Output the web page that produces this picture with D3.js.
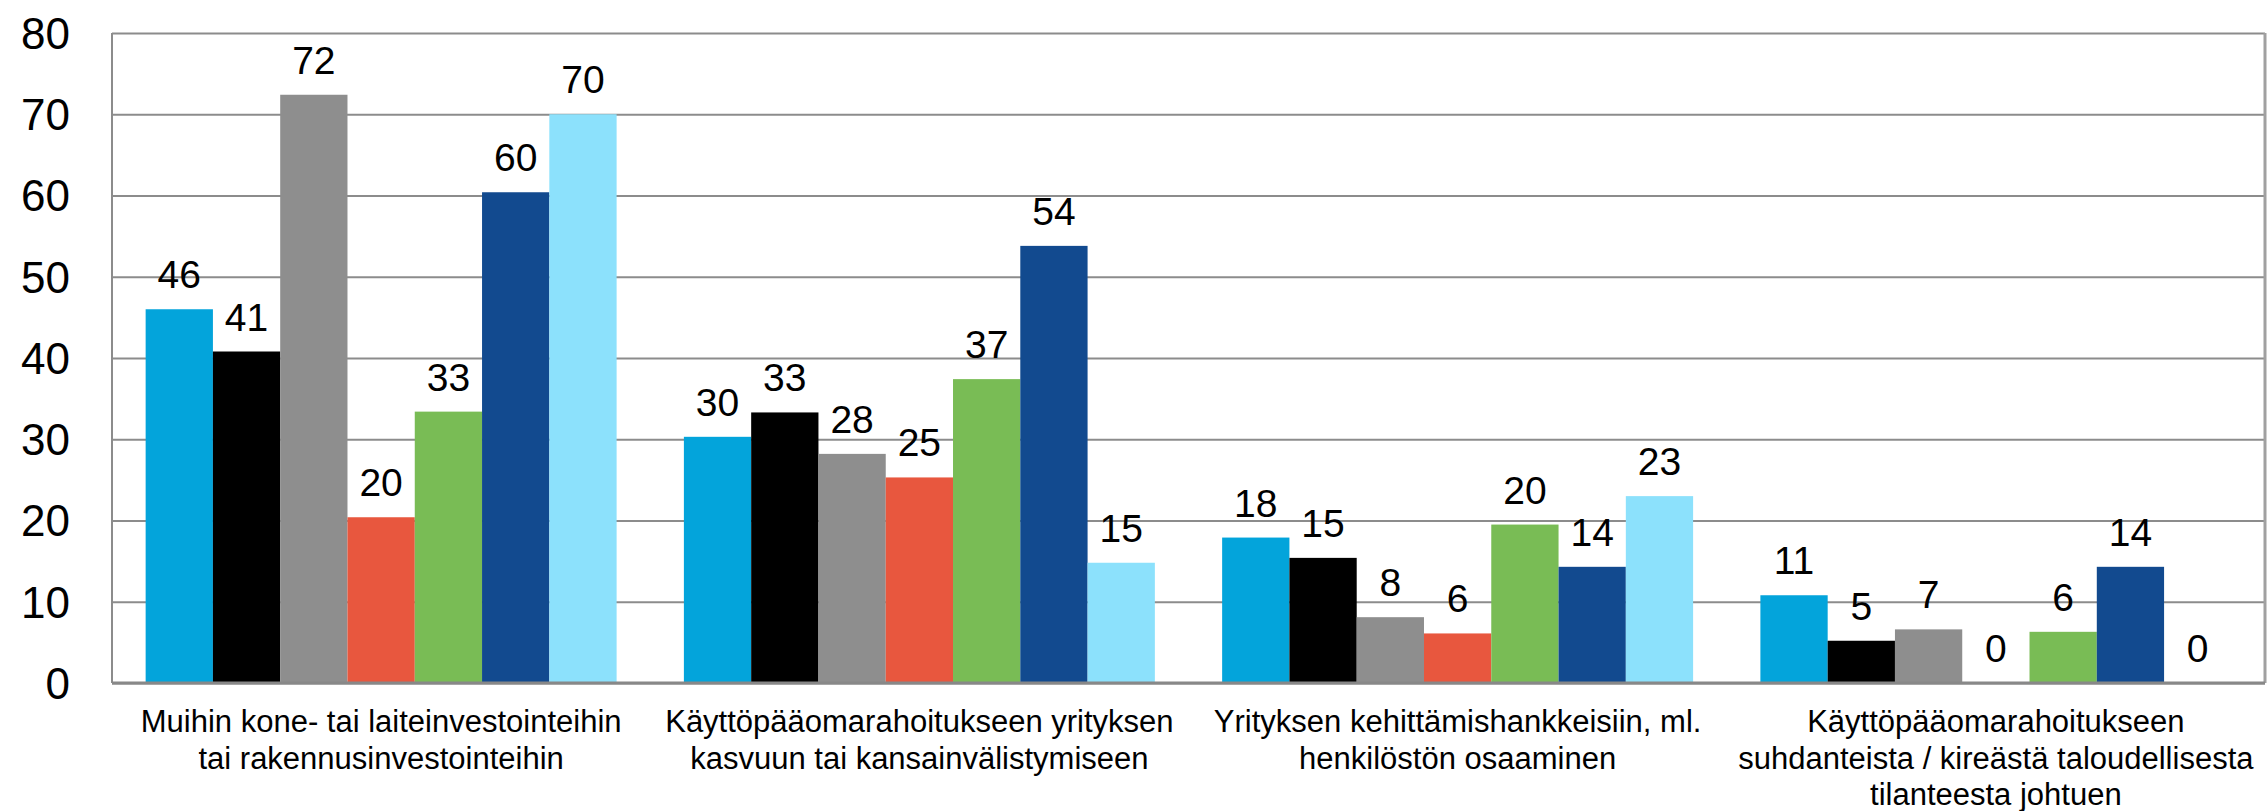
<html>
<head>
<script src="https://cdn.jsdelivr.net/npm/d3@7"></script>
<style>
body{
    margin: 0;
    background: #fff;
}
text {
    font-family: "Liberation Sans", Arial, sans-serif;
    fill: #000;
}
.grid line {
    stroke: #8c8c8c;
    stroke-width: 2px;
}
</style>
</head>
<body>
<div id="chart"></div>
<script>
var categories = [
    ['Muihin kone- tai laiteinvestointeihin', 'tai rakennusinvestointeihin'],
    ['Käyttöpääomarahoitukseen yrityksen', 'kasvuun tai kansainvälistymiseen'],
    ['Yrityksen kehittämishankkeisiin, ml.', 'henkilöstön osaaminen'],
    ['Käyttöpääomarahoitukseen', 'suhdanteista / kireästä taloudellisesta', 'tilanteesta johtuen']
];
var series  = ['s1', 's2', 's3', 's4', 's5', 's6', 's7'];
var colors  = ['#03a4db', '#000000', '#8e8e8e', '#e8573e', '#79bc55', '#124a8f', '#8ce1fc'];
var s1 = [46.0, 30.3, 17.9, 10.8];
var s2 = [40.8, 33.3, 15.4, 5.2];
var s3 = [72.4, 28.2, 8.1, 6.6];
var s4 = [20.4, 25.3, 6.1, 0];
var s5 = [33.4, 37.4, 19.5, 6.3];
var s6 = [60.4, 53.8, 14.3, 14.3];
var s7 = [70.0, 14.8, 23.0, 0];
var values = [s1, s2, s3, s4, s5, s6, s7];
var yTicks = [0, 10, 20, 30, 40, 50, 60, 70, 80];

var W = 2267, H = 811,
    mLeft = 112, mRight = 2265, mTop = 33, mBottom = 683;

var svg = d3.select('#chart').append('svg')
    .attr('width', W)
    .attr('height', H);

var x0 = d3.scaleBand()
    .domain(d3.range(categories.length))
    .range([mLeft, mRight])
    .padding(0);
var x1 = d3.scaleBand()
    .domain(series)
    .range([0, x0.bandwidth()])
    .paddingInner(0)
    .paddingOuter(0.5);
var y = d3.scaleLinear().domain([0, 80]).range([mBottom, mTop]);

// gridlines
var grid = svg.append('g')
    .attr('class', 'grid')
    .attr('transform', 'translate(' + mLeft + ',0)')
    .call(d3.axisLeft(y).tickValues(yTicks).tickSize(-(mRight - mLeft)).tickFormat(''));
grid.select('.domain').remove();

// y labels
svg.append('g').selectAll('text')
    .data(yTicks)
    .enter().append('text')
    .attr('x', 70)
    .attr('y', function(d) { return y(d); })
    .attr('dy', '0.36em')
    .attr('text-anchor', 'end')
    .style('font-size', '44px')
    .text(function(d) { return d; });

// bars
var groups = svg.append('g').selectAll('g')
    .data(series)
    .enter().append('g')
    .attr('fill', function(d, i) { return colors[i]; });

groups.selectAll('rect')
    .data(function(d, i) { return values[i].map(function(v, j) { return {s: d, c: j, v: v}; }); })
    .enter().append('rect')
    .attr('x', function(d) { return x0(d.c) + x1(d.s); })
    .attr('y', function(d) { return y(d.v); })
    .attr('width', x1.bandwidth())
    .attr('height', function(d) { return mBottom - y(d.v); });

groups.selectAll('text')
    .data(function(d, i) { return values[i].map(function(v, j) { return {s: d, c: j, v: v}; }); })
    .enter().append('text')
    .attr('x', function(d) { return x0(d.c) + x1(d.s) + x1.bandwidth() / 2; })
    .attr('y', function(d) { return y(d.v) - 21; })
    .attr('text-anchor', 'middle')
    .style('font-size', '39px')
    .text(function(d) { return d3.format('.0f')(d.v); });

// axes frame
svg.append('line')
    .attr('x1', mLeft).attr('x2', mLeft)
    .attr('y1', mTop).attr('y2', mBottom)
    .attr('stroke', '#8c8c8c').attr('stroke-width', 2);
svg.append('line')
    .attr('x1', mRight).attr('x2', mRight)
    .attr('y1', mTop).attr('y2', mBottom)
    .attr('stroke', '#a0a0a0').attr('stroke-width', 3);
svg.append('line')
    .attr('x1', mLeft).attr('x2', mRight)
    .attr('y1', mBottom).attr('y2', mBottom)
    .attr('stroke', '#888').attr('stroke-width', 3);

// category labels
var cat = svg.append('g').selectAll('text')
    .data(categories)
    .enter().append('text')
    .attr('text-anchor', 'middle')
    .attr('y', 732)
    .style('font-size', '31px');
cat.selectAll('tspan')
    .data(function(d, i) { return d.map(function(t) { return {t: t, i: i}; }); })
    .enter().append('tspan')
    .attr('x', function(d) { return x0(d.i) + x0.bandwidth() / 2; })
    .attr('dy', function(d, k) { return k ? 36.5 : 0; })
    .text(function(d) { return d.t; });
</script>
</body>
</html>
